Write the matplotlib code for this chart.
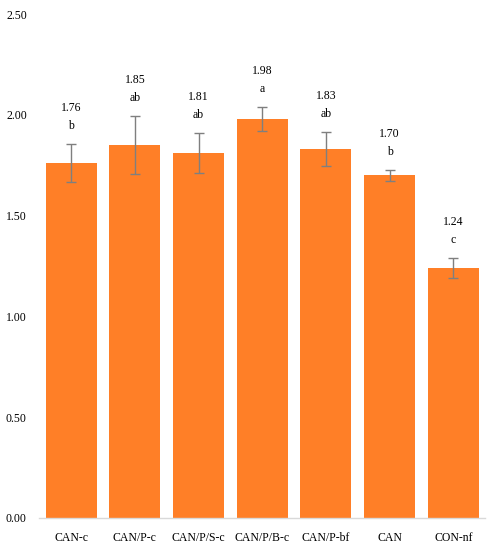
import matplotlib
matplotlib.use("Agg")
import matplotlib.pyplot as plt
import numpy as np

categories = ["CAN-c", "CAN/P-c", "CAN/P/S-c", "CAN/P/B-c", "CAN/P-bf", "CAN", "CON-nf"]
values = [1.76, 1.85, 1.81, 1.98, 1.83, 1.70, 1.24]
errors = [0.095, 0.145, 0.10, 0.06, 0.085, 0.027, 0.05]
letters = ["b", "ab", "ab", "a", "ab", "b", "c"]
yticks = [0.0, 0.5, 1.0, 1.5, 2.0, 2.5]

plt.rcParams['font.family'] = ['Liberation Serif', 'DejaVu Serif']

fig = plt.figure(figsize=(4.92, 5.5), dpi=100)
ax = fig.add_axes([0.080, 0.0582, 0.906, 0.9163])

x = np.arange(len(categories))
ax.bar(x, values, width=0.8, color='#FF7F27', zorder=2)
ax.errorbar(x, values, yerr=errors, fmt='none', ecolor='#7f7f7f', elinewidth=1.0,
            capsize=3.5, capthick=1.0, zorder=3)

for xi, v, e, l in zip(x, values, errors, letters):
    ax.annotate(f"{v:.2f}", (xi, v + e), xytext=(0, 26), textcoords='offset points',
                ha='center', va='center', fontsize=8.5, color='#000000')
    ax.annotate(l, (xi, v + e), xytext=(0, 13), textcoords='offset points',
                ha='center', va='center', fontsize=8.5, color='#000000')

ax.set_xlim(-0.5, len(categories) - 0.5)
ax.set_ylim(0, 2.5)
ax.set_yticks(yticks)
ax.set_yticklabels([f"{t:.2f}" for t in yticks])
ax.set_xticks(x)
ax.set_xticklabels(categories)
ax.tick_params(axis='both', length=0, labelsize=8.5, colors='#000000')
ax.tick_params(axis='x', pad=10)
ax.tick_params(axis='y', pad=9)
for s in ['top', 'right', 'left']:
    ax.spines[s].set_visible(False)
ax.spines['bottom'].set_color('#d9d9d9')
ax.spines['bottom'].set_linewidth(1.0)

fig.savefig("out.png", dpi=100)
